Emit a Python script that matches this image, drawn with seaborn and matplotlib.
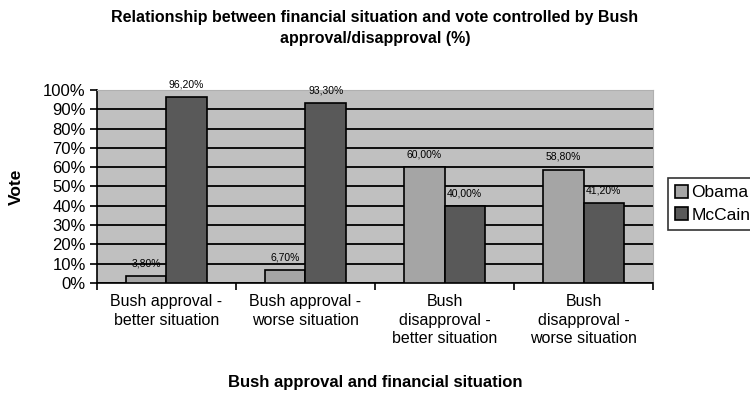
import matplotlib
matplotlib.use("Agg")
import matplotlib.pyplot as plt
import seaborn as sns
import pandas as pd
import numpy as np

categories = [
    "Bush approval -\nbetter situation",
    "Bush approval -\nworse situation",
    "Bush\ndisapproval -\nbetter situation",
    "Bush\ndisapproval -\nworse situation",
]
series_names = ["Obama", "McCain"]
obama = [3.8, 6.7, 60.0, 58.8]
mccain = [96.2, 93.3, 40.0, 41.2]
y_ticks = [0, 10, 20, 30, 40, 50, 60, 70, 80, 90, 100]

df = pd.DataFrame({
    "category": categories * 2,
    "candidate": [series_names[0]] * 4 + [series_names[1]] * 4,
    "vote": obama + mccain,
})

sns.set_style("white")
plt.rcParams["font.family"] = ["Liberation Sans", "DejaVu Sans"]
plt.rcParams["text.color"] = "black"
plt.rcParams["axes.labelcolor"] = "black"
plt.rcParams["xtick.color"] = "black"
plt.rcParams["ytick.color"] = "black"

fig = plt.figure(figsize=(7.5, 4.01), dpi=100)
ax = fig.add_axes([0.1293, 0.2943, 0.7414, 0.4813])

palette = {"Obama": "#A5A5A5", "McCain": "#595959"}
sns.barplot(data=df, x="category", y="vote", hue="candidate", order=categories,
            hue_order=series_names, palette=palette, width=0.58, gap=0,
            edgecolor="black", linewidth=1.2, saturation=1, ax=ax, zorder=3)

ax.set_facecolor("#C0C0C0")
ax.set_ylim(0, 100)
ax.set_xlim(-0.5, 3.5)
ax.set_yticks(y_ticks)
ax.set_yticklabels([f"{t}%" for t in y_ticks], fontsize=12)
ax.yaxis.grid(True, color="black", linewidth=1.3, zorder=0)
ax.set_axisbelow(True)

for side in ["top", "right"]:
    ax.spines[side].set_visible(True)
    ax.spines[side].set_color("#B0B0B0")
for side in ["left", "bottom"]:
    ax.spines[side].set_color("black")
    ax.spines[side].set_linewidth(1.2)

ax.tick_params(axis="y", direction="out", length=5, width=1.2, color="black", pad=3, left=True)
ax.set_xticks(range(len(categories)))
ax.set_xticklabels(categories, fontsize=11.5, linespacing=1.3)
ax.tick_params(axis="x", which="major", length=0, pad=8)
ax.set_xticks(np.arange(-0.5, 4.0, 1.0), minor=True)
ax.tick_params(axis="x", which="minor", direction="out", length=5, width=1.2, color="black", bottom=True)

# value labels above each bar
for container in ax.containers:
    labels = [f"{v:.2f}%".replace(".", ",") for v in container.datavalues]
    ax.bar_label(container, labels=labels, padding=5.5, fontsize=7.5)

ax.set_xlabel("Bush approval and financial situation", fontsize=12, fontweight="bold", labelpad=21)
ax.set_ylabel("Vote", fontsize=12.5, fontweight="bold", labelpad=14)

leg = ax.legend(loc="center left", bbox_to_anchor=(1.027, 0.41), frameon=True, fontsize=12.5,
                handlelength=0.75, handleheight=0.75, handletextpad=0.2, borderpad=0.4,
                labelspacing=0.4, fancybox=False, borderaxespad=0)
leg.get_frame().set_edgecolor("black")
leg.get_frame().set_linewidth(1.2)

fig.suptitle("Relationship between financial situation and vote controlled by Bush\napproval/disapproval (%)",
             x=0.5, y=0.975, fontsize=11.5, fontweight="bold", linespacing=1.5)

fig.savefig("out.png", dpi=100, facecolor="white")
